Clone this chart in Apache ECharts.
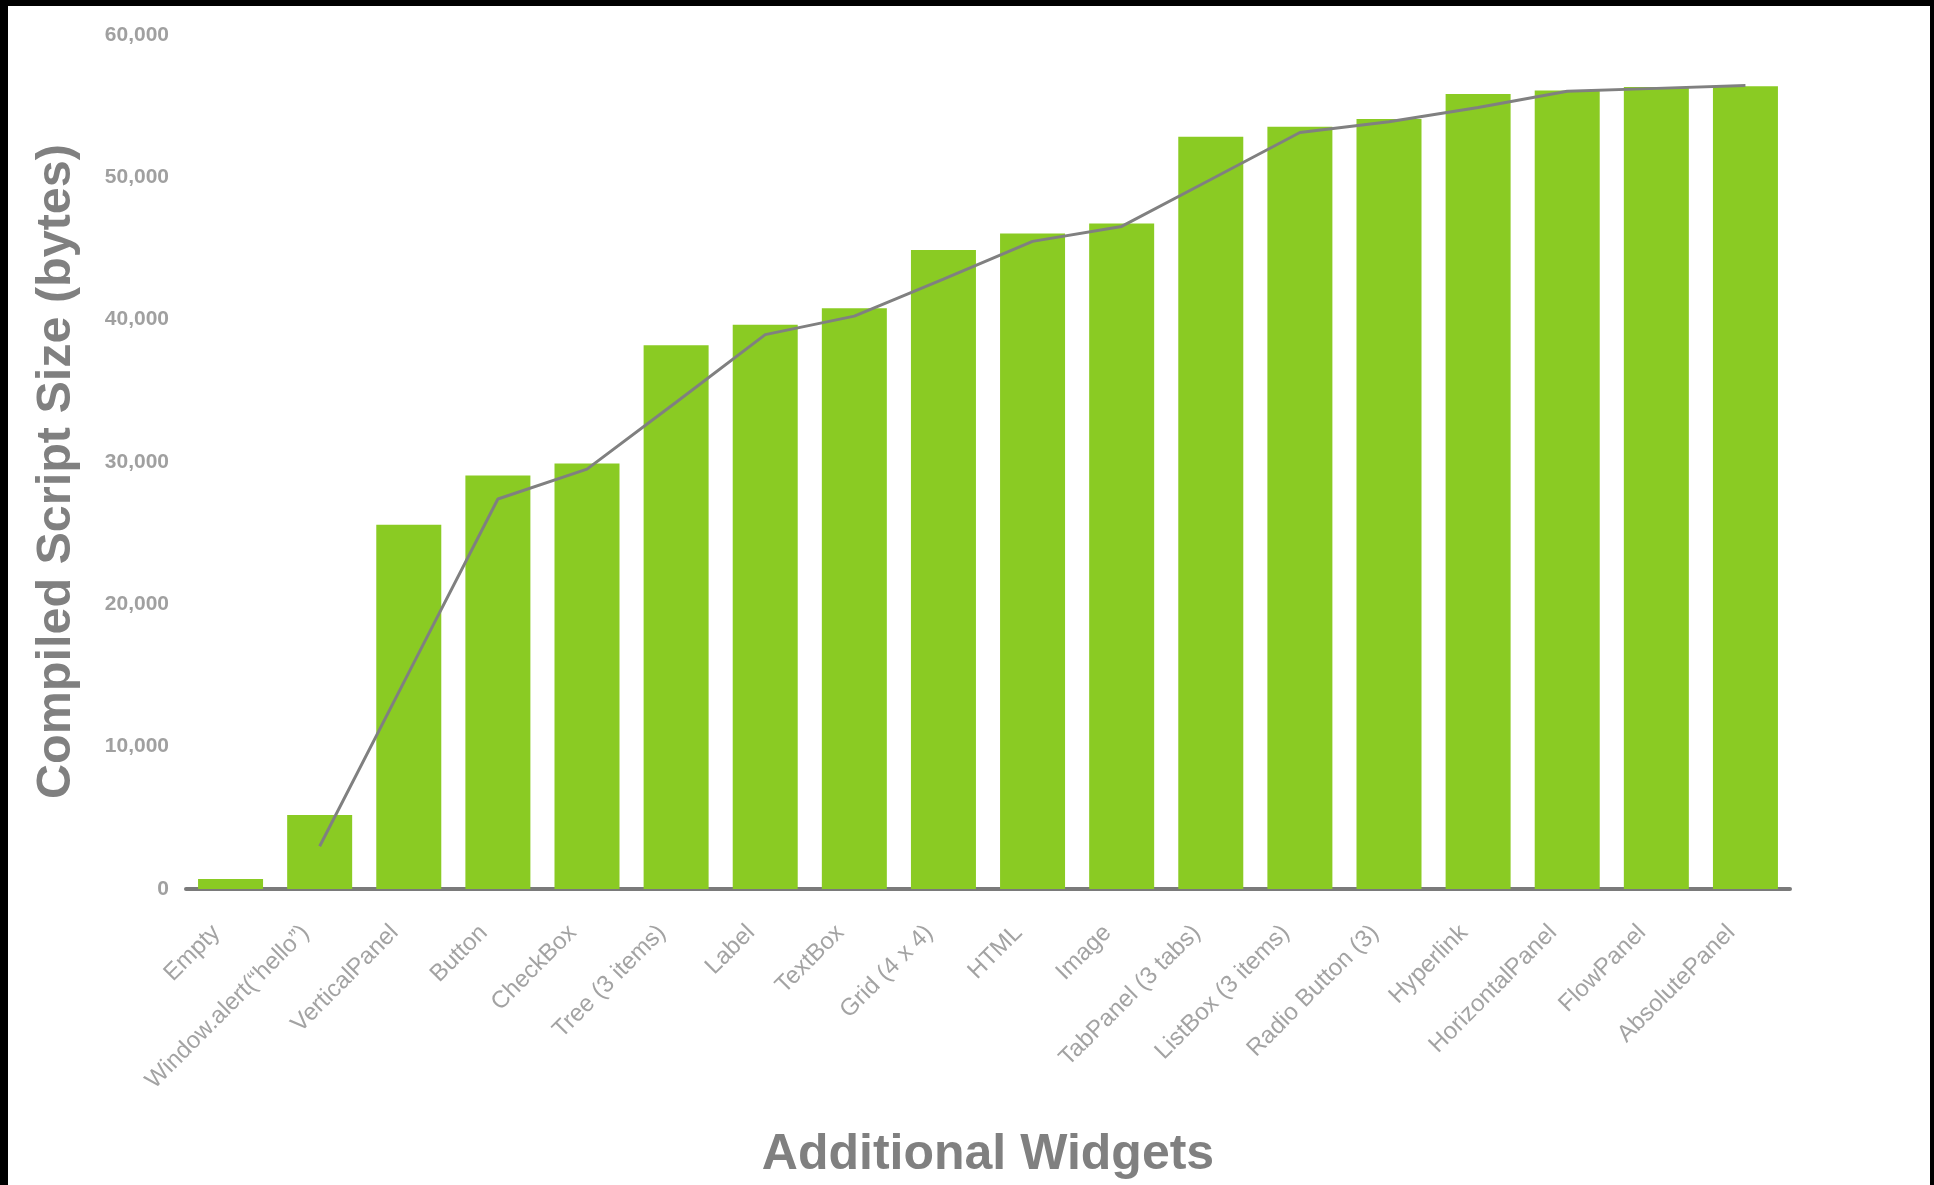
<!DOCTYPE html>
<html>
<head>
<meta charset="utf-8">
<script src="https://cdn.jsdelivr.net/npm/echarts@6/dist/echarts.min.js"></script>
<style>
  html, body { margin: 0; padding: 0; background: #000; width: 1934px; height: 1185px; overflow: hidden; }
  #paper { position: absolute; left: 8px; top: 6px; width: 1922px; height: 1179px; background: #fff; }
  #chart { position: absolute; left: 0; top: 0; width: 1934px; height: 1185px; }
</style>
</head>
<body>
<div id="paper"></div>
<div id="chart"></div>
<script>
const categories = ['Empty', 'Window.alert(“hello”)', 'VerticalPanel', 'Button', 'CheckBox', 'Tree (3 items)', 'Label', 'TextBox', 'Grid (4 x 4)', 'HTML', 'Image', 'TabPanel (3 tabs)', 'ListBox (3 items)', 'Radio Button (3)', 'Hyperlink', 'HorizontalPanel', 'FlowPanel', 'AbsolutePanel'];
const barValues = [700, 5200, 25600, 29050, 29900, 38200, 39650, 40800, 44900, 46050, 46750, 52850, 53550, 54100, 55850, 56100, 56350, 56400];
const lineValues = [null, 3000, 15200, 27400, 29500, 34200, 38950, 40250, 42850, 45500, 46550, 49850, 53150, 53900, 54900, 56050, 56250, 56450];
const yMin = 0, yMax = 60000, yStep = 10000;
const xTitle = 'Additional Widgets';
const yTitle = 'Compiled Script Size (bytes)';

const FONT = '"Liberation Sans", Arial, Helvetica, sans-serif';
const chart = echarts.init(document.getElementById('chart'), null, { renderer: 'canvas' });
chart.setOption({
  backgroundColor: 'transparent',
  animation: false,
  grid: { left: 186, right: 144, top: 35, bottom: 295, containLabel: false },
  xAxis: {
    type: 'category',
    data: categories,
    boundaryGap: true,
    axisLine: { show: true, lineStyle: { color: '#7a7a7a', width: 4 } },
    axisTick: { show: false },
    axisLabel: { interval: 0, rotate: 45, margin: 26, padding: [0, 20, 0, 0], color: '#a3a3a3', fontSize: 24, fontFamily: FONT },
    name: xTitle,
    nameLocation: 'middle',
    nameGap: 241,
    nameTextStyle: { color: '#808080', fontSize: 50, fontWeight: 'bold', fontFamily: FONT }
  },
  yAxis: {
    type: 'value',
    min: yMin, max: yMax, interval: yStep,
    axisLine: { show: false },
    axisTick: { show: false },
    splitLine: { show: false },
    axisLabel: {
      margin: 17, color: '#a0a0a0', fontSize: 21, fontWeight: 'bold', fontFamily: FONT,
      formatter: v => v.toLocaleString('en-US')
    },
    name: yTitle,
    nameLocation: 'middle',
    nameGap: 105,
    nameRotate: 90,
    nameTextStyle: { color: '#808080', fontSize: 48.5, fontWeight: 'bold', fontFamily: FONT, padding: [0, 19, 0, 0] }
  },
  series: [
    {
      type: 'bar',
      data: barValues,
      barWidth: 65,
      itemStyle: { color: '#8acb23' },
      z: 2
    },
    {
      type: 'line',
      data: lineValues,
      showSymbol: false,
      symbol: 'none',
      lineStyle: { color: '#808080', width: 3 },
      z: 3
    }
  ]
});
</script>
</body>
</html>
